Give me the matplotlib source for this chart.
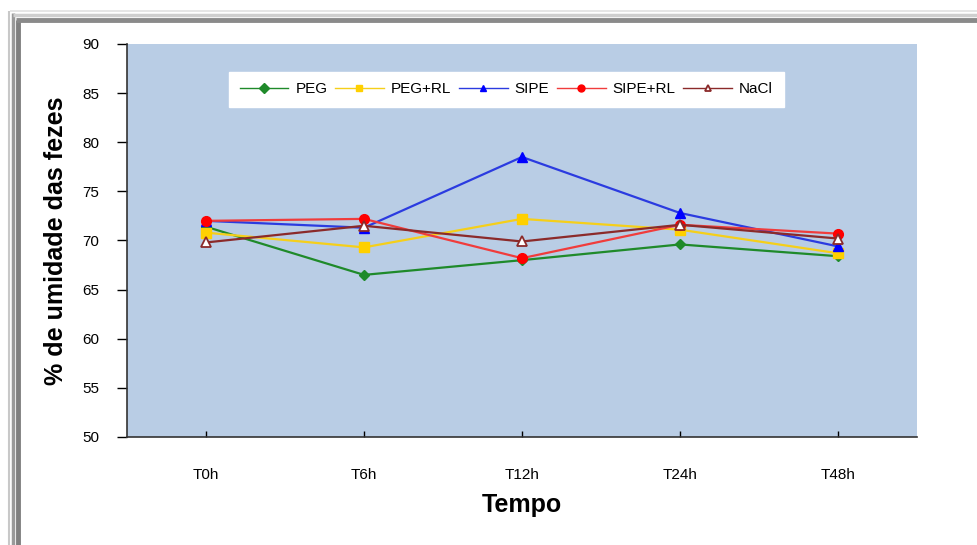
import matplotlib
matplotlib.use("Agg")
import matplotlib.pyplot as plt
from matplotlib.lines import Line2D

plt.rcParams["font.family"] = ["Liberation Sans", "DejaVu Sans"]

tempos = ["T0h", "T6h", "T12h", "T24h", "T48h"]
peg = [71.4, 66.5, 68.0, 69.6, 68.4]
peg_rl = [70.8, 69.3, 72.2, 71.1, 68.7]
sipe = [72.0, 71.3, 78.5, 72.8, 69.4]
sipe_rl = [72.0, 72.2, 68.2, 71.6, 70.7]
nacl = [69.8, 71.5, 69.9, 71.6, 70.2]

y_ticks = [50, 55, 60, 65, 70, 75, 80, 85, 90]

W, H = 977, 545
fig = plt.figure(figsize=(W / 100, H / 100), dpi=100)


def px(x, y):
    return x / W, 1 - y / H


# window-style grey frame around the chart
for (x0, y0, x1, y1, c, lw) in [
    (9, 11, 9, 545, "#c8c8c8", 1.5),
    (12.5, 13, 12.5, 545, "#9a9a9a", 2.5),
    (17.5, 20, 17.5, 545, "#808080", 3.5),
    (10, 11, 977, 11, "#e2e2e2", 1.2),
    (13, 15, 977, 15, "#cfcfcf", 2.5),
    (16, 20, 977, 20, "#8a8a8a", 3.5),
]:
    a, b = px(x0, y0)
    c2, d = px(x1, y1)
    fig.add_artist(Line2D([a, c2], [b, d], color=c, lw=lw, solid_capstyle="butt"))

l, t = px(127, 44)
r, b = px(917, 437)
ax = fig.add_axes([l, b, r - l, t - b])
ax.set_facecolor("#b9cde5")

x = range(len(tempos))
series = [
    ("PEG", peg, dict(color="#1f8a2a", marker="D", ms=5, mfc="#1f8a2a")),
    ("PEG+RL", peg_rl, dict(color="#f5cf1a", marker="s", ms=7, mfc="#ffd000")),
    ("SIPE", sipe, dict(color="#2b3be0", marker="^", ms=7, mfc="#0000ff")),
    ("SIPE+RL", sipe_rl, dict(color="#f03c3c", marker="o", ms=7, mfc="#ff0000")),
    ("NaCl", nacl, dict(color="#8b2a2a", marker="^", ms=7, mfc="white", mew=1.3)),
]
for name, vals, st in series:
    mec = st["color"] if st["mfc"] == "white" else st["mfc"]
    ax.plot(x, vals, lw=1.6, label=name, mec=mec, **st)

ax.set_xlim(-0.5, len(tempos) - 0.5)
ax.set_ylim(50, 90)
ax.set_yticks(y_ticks)
ax.set_xticks(list(x))
ax.set_xticklabels(tempos)
ax.tick_params(axis="y", direction="out", length=7, width=1, labelsize=11, pad=13)
ax.tick_params(axis="x", direction="in", length=4, width=1, labelsize=11, pad=22)
for s in ["top", "right"]:
    ax.spines[s].set_visible(False)
for s in ["left", "bottom"]:
    ax.spines[s].set_color("#333333")
    ax.spines[s].set_linewidth(1.2)

ax.set_ylabel("% de umidade das fezes", fontsize=18, fontweight="bold", labelpad=10)
ax.set_xlabel("Tempo", fontsize=18, fontweight="bold", labelpad=8)

leg = ax.legend(loc="upper left", bbox_to_anchor=(0.129, 0.93), ncol=5,
                frameon=True, fancybox=False, edgecolor="white", facecolor="white",
                framealpha=1, fontsize=11, handlelength=3.2, handletextpad=0.45,
                columnspacing=0.5, borderpad=0.7, borderaxespad=0)
for h in leg.legend_handles:
    h.set_markersize(5)
    h.set_linewidth(1)

fig.savefig("out.png", dpi=100)
